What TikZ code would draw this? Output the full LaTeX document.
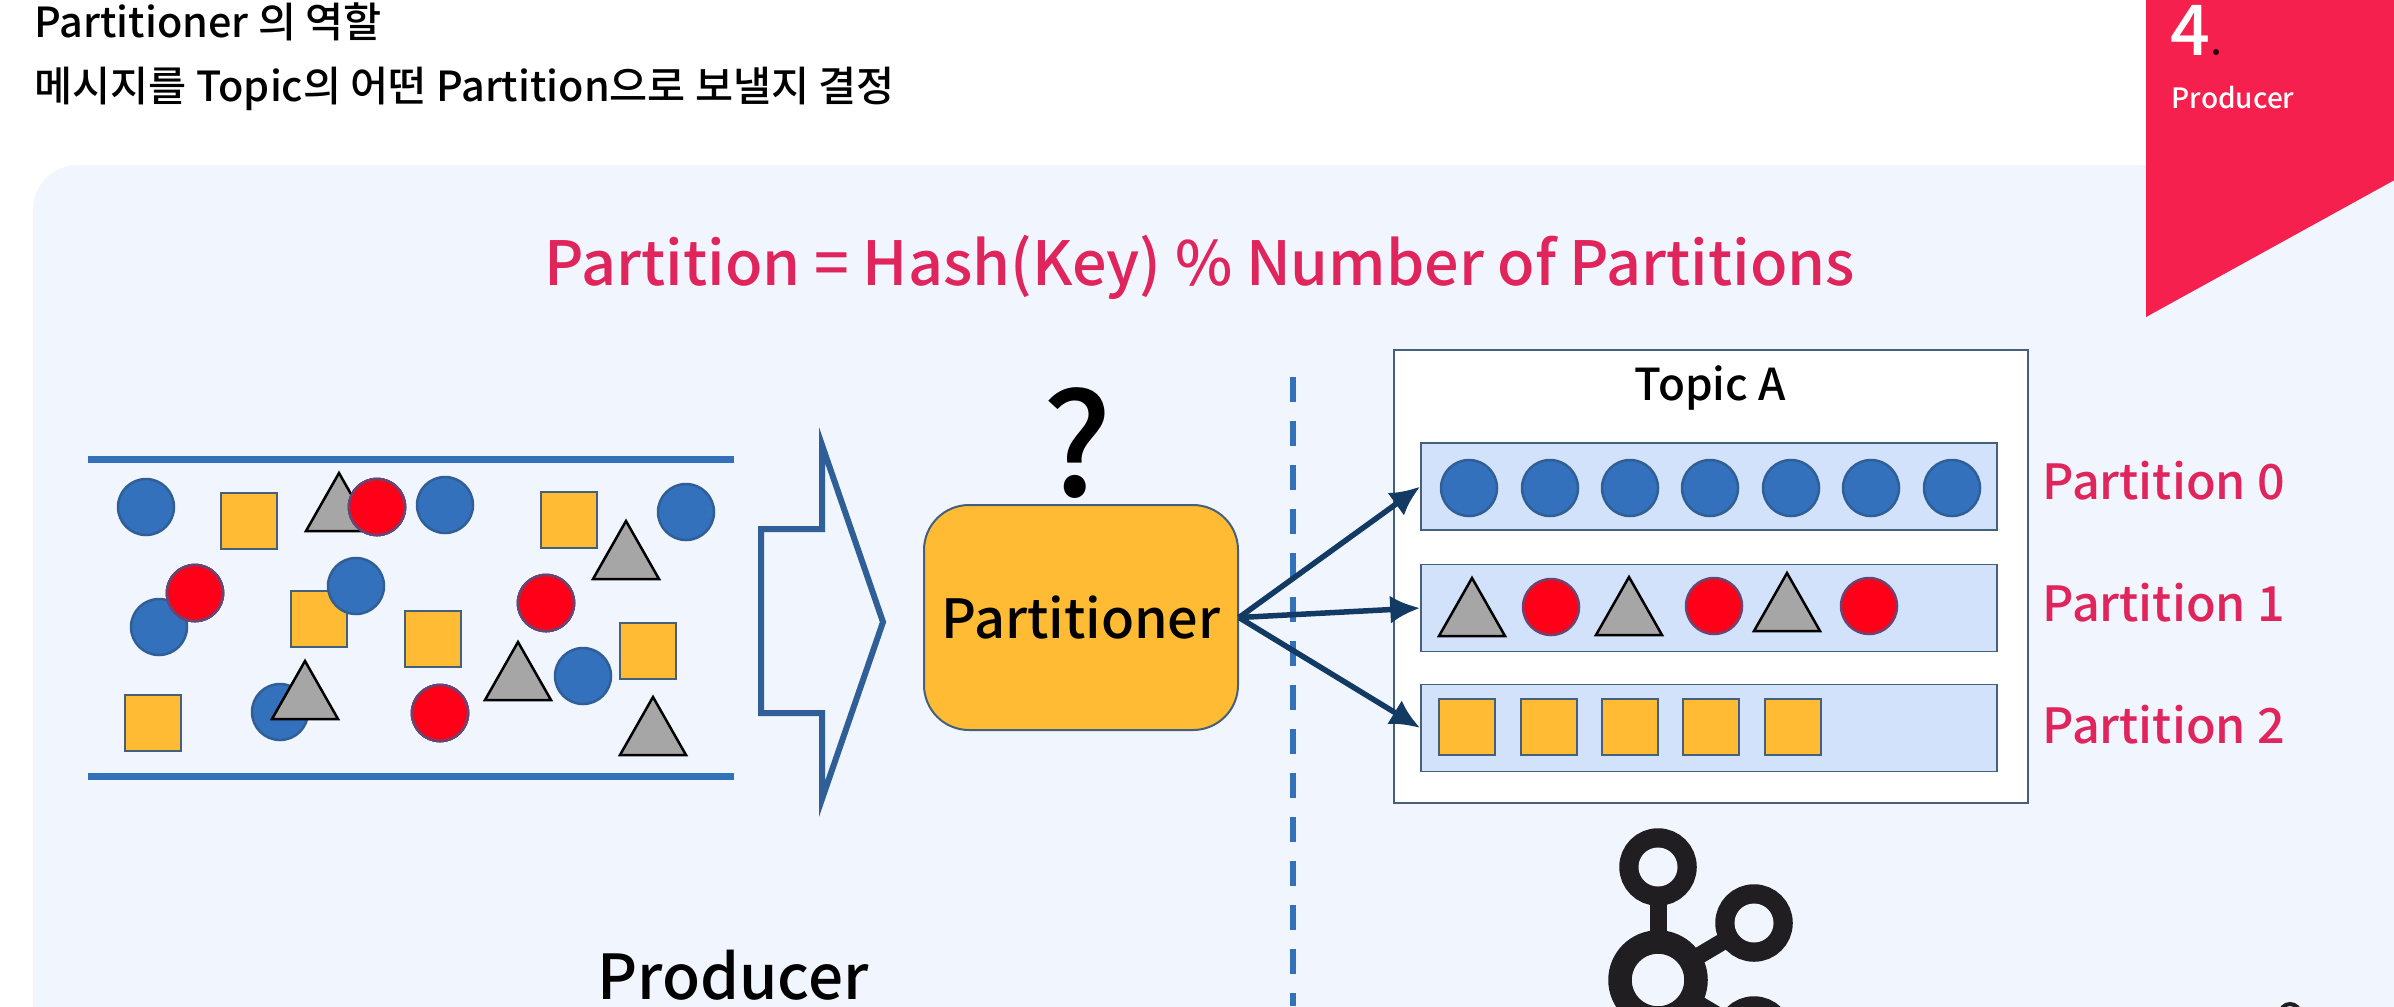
\documentclass[tikz,border=0pt]{standalone}
\usepackage{fontspec}
\setmainfont{Noto Sans CJK KR Medium}
\usepackage{xcolor}
\usetikzlibrary{arrows.meta}
\definecolor{panelbg}{RGB}{240,245,254}
\definecolor{ribbon}{RGB}{245,32,78}
\definecolor{rosetxt}{RGB}{224,36,92}
\definecolor{ballblue}{RGB}{51,113,188}
\definecolor{lineblue}{RGB}{51,113,184}
\definecolor{arrowblue}{RGB}{47,95,150}
\definecolor{navyar}{RGB}{18,58,99}
\definecolor{amber}{RGB}{255,187,51}
\definecolor{greytri}{RGB}{166,166,166}
\definecolor{redball}{RGB}{255,0,24}
\definecolor{barblue}{RGB}{211,226,251}
\definecolor{edgeslate}{RGB}{68,96,122}
\definecolor{logoblack}{RGB}{32,30,32}
% font size given in reference pixels (1 px = 0.1 mm)
\newcommand{\PxFont}[1]{\fontsize{\dimexpr#1\dimexpr0.28453pt\relax\relax}{\dimexpr#1\dimexpr0.34pt\relax\relax}\selectfont}
\newcommand{\Tri}[2]{%
  \draw[tri] (#1-33,#2) -- (#1,#2-58) -- (#1+33,#2) -- cycle;}
\tikzset{
  bluedot/.style ={circle, draw=arrowblue, fill=ballblue, line width=0.25mm, minimum size=5.6mm, inner sep=0pt},
  reddot/.style  ={circle, draw=arrowblue!70!redball, fill=redball, line width=0.25mm, minimum size=5.6mm, inner sep=0pt},
  sqbox/.style   ={draw=edgeslate, fill=amber, line width=0.25mm, minimum size=5.6mm, inner sep=0pt},
  tri/.style     ={draw=black, fill=greytri, line width=0.25mm, line join=miter},
  barbox/.style  ={draw=edgeslate, fill=barblue, line width=0.15mm, minimum width=57.6mm, minimum height=8.7mm, inner sep=0pt},
  partlbl/.style ={anchor=west, text=rosetxt, font=\PxFont{48.5}, inner sep=0pt},
  ar/.style      ={-{Latex[length=3mm,width=2.8mm]}, draw=navyar, line width=0.55mm},
  logoring/.style={draw=logoblack, line width=1.95mm, circle, minimum size=5.8mm, inner sep=0pt},
}
\begin{document}
\begin{tikzpicture}[x=0.1mm,y=-0.1mm]
\clip (0,0) rectangle (2394,1006);
\fill[white] (0,0) rectangle (2394,1006);
\fill[panelbg,rounded corners=4.5mm] (33,165) rectangle (2500,1150);

% heading
\node[anchor=base west,inner sep=0pt,font=\PxFont{41.4}] (head1) at (34,37) {Partitioner 의 역할};
\node[anchor=base west,inner sep=0pt,font=\PxFont{41.4}] (head2) at (34,101) {메시지를 Topic의 어떤 Partition으로 보낼지 결정};

% section ribbon
\fill[ribbon] (2146,-5) -- (2400,-5) -- (2400,177) -- (2146,317) -- cycle;
\node[anchor=base west,inner sep=0pt,text=white,font=\PxFont{70}] (secnum) at (2170,55) {4};
\fill[black!85!red] (2216,52) circle (3);
\node[anchor=base west,inner sep=0pt,text=white,font=\PxFont{28}] (secname) at (2171,108) {Producer};

\node[text=rosetxt,font=\PxFont{61},inner sep=0pt] (formula) at (1200,267) {Partition = Hash(Key) \% Number of Partitions};

% message stream
\draw[lineblue,line width=0.7mm] (88,459) -- (734,459);
\draw[lineblue,line width=0.7mm] (88,776) -- (734,776);
\foreach \x/\y [count=\i] in {249/521,569/520,319/619,433/639,648/651,153/723}
  \node[sqbox] (sq\i) at (\x,\y) {};
\foreach \x/\y [count=\i] in {146/507,445/505,686/512,159/627,356/586,583/676,280/712}
  \node[bluedot] (bl\i) at (\x,\y) {};
\foreach \x/\y in {339/531,626/579,518/700,305/719,653/755}
  \Tri{\x}{\y}
\foreach \x/\y [count=\i] in {377/507,195/593,546/603,440/713}
  \node[reddot] (rd\i) at (\x,\y) {};
\draw[arrowblue,line width=0.6mm,line join=miter] (761,529) -- (822,529) -- (822,445) -- (883,622) -- (822,799) -- (822,713) -- (761,713) -- cycle;

\node[text=black,font=\PxFont{142},inner sep=0pt] (quest) at (1077,443) {?};
\node[draw=edgeslate,fill=amber,line width=0.2mm,rounded corners=4.5mm,minimum width=31.4mm,minimum height=22.5mm,
  inner sep=0pt,font=\PxFont{54}] (partitioner) at (1081,617.5) {Partitioner};

\draw[lineblue,line width=0.55mm,dash pattern=on 2.5mm off 1.9mm] (1293,377) -- (1293,1006);

\node[anchor=center,inner sep=0pt,font=\PxFont{62}] (producer) at (733,975) {Producer};

% topic
\node[draw=edgeslate,fill=white,line width=0.15mm,minimum width=63.4mm,minimum height=45.3mm,inner sep=0pt] (topic) at (1711,576.5) {};
\node[inner sep=0pt,font=\PxFont{44}] (topicname) at (1710,388) {Topic A};
\node[barbox] (bar0) at (1709,486.5) {};
\node[barbox] (bar1) at (1709,608) {};
\node[barbox] (bar2) at (1709,728) {};
\foreach \x [count=\i] in {1469,1550,1630,1710,1791,1871,1952}
  \node[bluedot] (pb\i) at (\x,488) {};
\Tri{1472}{636}
\Tri{1629}{635}
\Tri{1787}{631}
\foreach \x/\y [count=\i] in {1551/607,1714/606,1869/606}
  \node[reddot] (pr\i) at (\x,\y) {};
\foreach \x [count=\i] in {1467,1549,1630,1711,1793}
  \node[sqbox] (ps\i) at (\x,727) {};
\node[partlbl] (lbl0) at (2042,481) {Partition 0};
\node[partlbl] (lbl1) at (2042,603) {Partition 1};
\node[partlbl] (lbl2) at (2042,725) {Partition 2};

\draw[ar] (partitioner.east) -- (bar0.west);
\draw[ar] (partitioner.east) -- (bar1.west);
\draw[ar] (partitioner.east) -- (bar2.west);

% logo
\draw[logoblack,line width=1.7mm] (1658,867) -- (1658,980);
\draw[logoblack,line width=1.7mm] (1754,923) -- (1658,980) -- (1754,1037);
\node[logoring] (ringtop) at (1658,867) {};
\node[logoring] (ringright) at (1754,923) {};
\node[logoring] (ringlow) at (1754,1035) {};
\node[logoring,line width=2.35mm,minimum size=7.6mm,fill=panelbg] (ringmid) at (1658,980) {};
\foreach \n in {ringtop,ringright,ringlow}
  \fill[panelbg] (\n.center) circle (19.5);
\draw[logoblack,line width=0.4mm] (2290,1014) circle (10);
\end{tikzpicture}
\end{document}
